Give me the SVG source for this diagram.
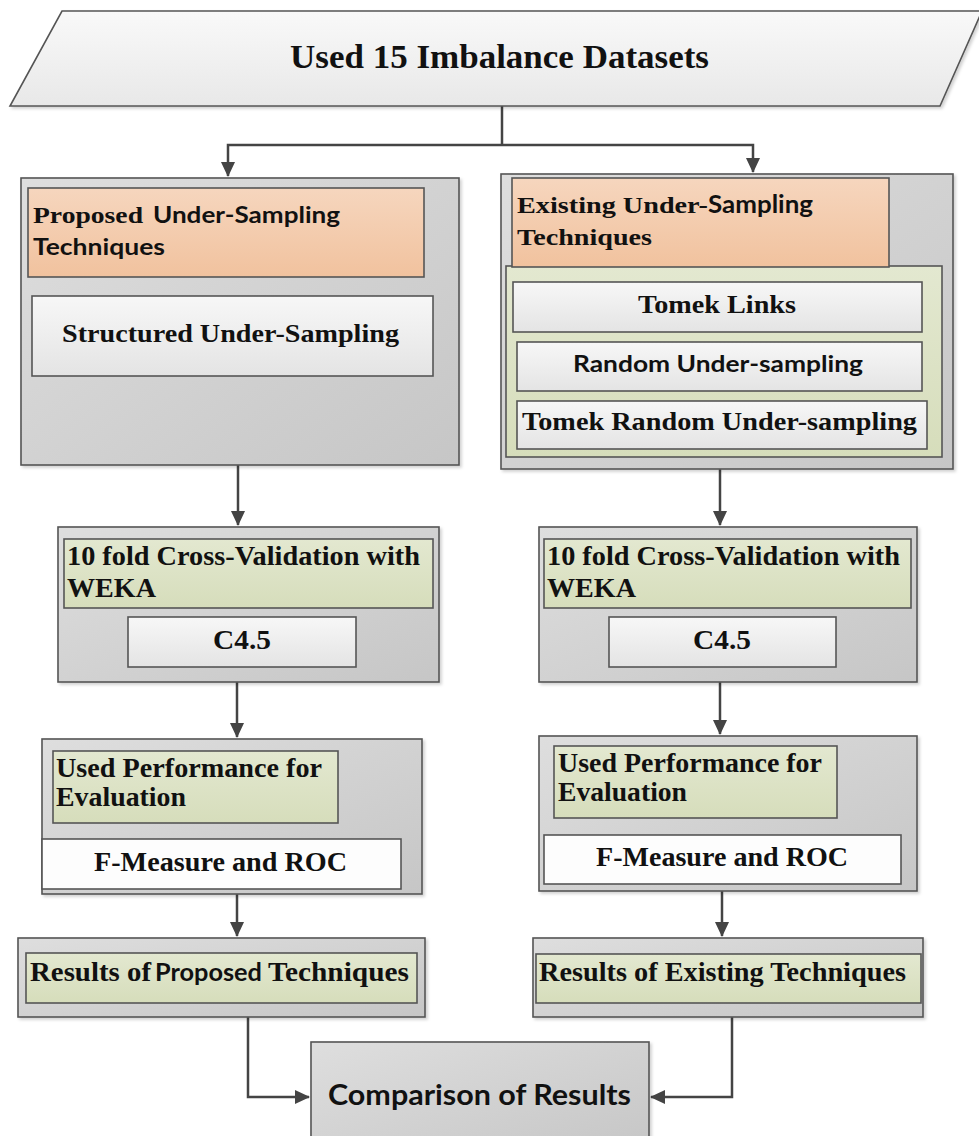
<svg xmlns="http://www.w3.org/2000/svg" width="979" height="1136" viewBox="0 0 979 1136">
<defs>
<linearGradient id="gGray" x1="0" y1="0" x2="1" y2="1"><stop offset="0" stop-color="#dedede"/><stop offset="1" stop-color="#c6c6c6"/></linearGradient>
<linearGradient id="gLight" x1="0" y1="0" x2="0" y2="1"><stop offset="0" stop-color="#f7f7f7"/><stop offset="1" stop-color="#e4e4e4"/></linearGradient>
<linearGradient id="gPara" x1="0" y1="0" x2="0" y2="1"><stop offset="0" stop-color="#f9f9f9"/><stop offset="1" stop-color="#e8e8e8"/></linearGradient>
<linearGradient id="gOrange" x1="0" y1="0" x2="0" y2="1"><stop offset="0" stop-color="#f6d6be"/><stop offset="1" stop-color="#f1c29e"/></linearGradient>
<linearGradient id="gGreen" x1="0" y1="0" x2="0" y2="1"><stop offset="0" stop-color="#e3e8d0"/><stop offset="1" stop-color="#d6ddbb"/></linearGradient>
<filter id="sh" x="-5%" y="-5%" width="112%" height="115%"><feDropShadow dx="2" dy="2" stdDeviation="1.5" flood-color="#000" flood-opacity="0.18"/></filter>
<marker id="ah" markerUnits="userSpaceOnUse" markerWidth="16" markerHeight="14" refX="14" refY="7" orient="auto"><path d="M0,0 L15,7 L0,14 z" fill="#444"/></marker>
</defs>
<style>
.box{stroke:#555;stroke-width:1.6}
.gray{fill:url(#gGray)}
.light{fill:url(#gLight)}
.white{fill:#fdfdfd}
.orange{fill:url(#gOrange)}
.green{fill:url(#gGreen)}
.conn{fill:none;stroke:#444;stroke-width:2.5}
.serif{font-family:"Liberation Serif","Times New Roman",serif;font-weight:bold;fill:#111}
.sans{font-family:Lato,"Open Sans","Liberation Sans",sans-serif;font-weight:bold;fill:#111}
</style>

<g id="connectors">
<path class="conn" d="M502,106 V145"/>
<path class="conn" d="M502,145 H228 V176" marker-end="url(#ah)"/>
<path class="conn" d="M502,145 H753 V172" marker-end="url(#ah)"/>
<path class="conn" d="M238,465 V525" marker-end="url(#ah)"/>
<path class="conn" d="M720,469 V525" marker-end="url(#ah)"/>
<path class="conn" d="M237,682 V737" marker-end="url(#ah)"/>
<path class="conn" d="M720,682 V734" marker-end="url(#ah)"/>
<path class="conn" d="M237,894 V936" marker-end="url(#ah)"/>
<path class="conn" d="M722,891 V936" marker-end="url(#ah)"/>
<path class="conn" d="M248,1017 V1097 H309" marker-end="url(#ah)"/>
<path class="conn" d="M732,1017 V1097 H651" marker-end="url(#ah)"/>
</g>

<g id="datasets">
<polygon class="box" points="62,11 982,11 940,106 10,106" fill="url(#gPara)" filter="url(#sh)"/>
<text class="serif" x="290" y="68" font-size="34" textLength="419" lengthAdjust="spacingAndGlyphs">Used 15 Imbalance Datasets</text>
</g>

<g id="proposed">
<rect class="box gray" x="21" y="178" width="438" height="287" filter="url(#sh)"/>
<rect class="box orange" x="28" y="188" width="396" height="89"/>
<text y="223" font-size="23"><tspan class="serif" x="33" textLength="110" lengthAdjust="spacingAndGlyphs">Proposed</tspan><tspan class="sans" x="153" textLength="187" lengthAdjust="spacingAndGlyphs">Under-Sampling</tspan></text>
<text class="sans" x="33" y="255" font-size="23" textLength="132" lengthAdjust="spacingAndGlyphs">Techniques</text>
<rect class="box light" x="32" y="296" width="401" height="80"/>
<text class="serif" x="62" y="342" font-size="26" textLength="337" lengthAdjust="spacingAndGlyphs">Structured Under-Sampling</text>
</g>

<g id="existing">
<rect class="box gray" x="501" y="174" width="452" height="295" filter="url(#sh)"/>
<rect class="box green" x="506" y="266" width="436" height="191"/>
<rect class="box orange" x="512" y="178" width="377" height="89"/>
<text y="213" font-size="24"><tspan class="serif" x="517" textLength="191" lengthAdjust="spacingAndGlyphs">Existing Under-</tspan><tspan class="sans" x="708" textLength="105" lengthAdjust="spacingAndGlyphs">Sampling</tspan></text>
<text class="serif" x="517" y="245" font-size="24" textLength="135" lengthAdjust="spacingAndGlyphs">Techniques</text>
<rect class="box light" x="513" y="282" width="409" height="50"/>
<text class="serif" x="638" y="313" font-size="26" textLength="158" lengthAdjust="spacingAndGlyphs">Tomek Links</text>
<rect class="box light" x="517" y="342" width="405" height="49"/>
<text class="sans" x="573" y="372" font-size="22" textLength="290" lengthAdjust="spacingAndGlyphs">Random Under-sampling</text>
<rect class="box light" x="517" y="401" width="410" height="48"/>
<text class="serif" x="522" y="430" font-size="26" textLength="395" lengthAdjust="spacingAndGlyphs">Tomek Random Under-sampling</text>
</g>

<g id="cv-left">
<rect class="box gray" x="58" y="527" width="381" height="155" filter="url(#sh)"/>
<rect class="box green" x="64" y="539" width="369" height="69"/>
<text class="serif" x="67" y="565" font-size="27" textLength="353" lengthAdjust="spacingAndGlyphs">10 fold Cross-Validation with</text>
<text class="serif" x="67" y="597" font-size="27" textLength="89" lengthAdjust="spacingAndGlyphs">WEKA</text>
<rect class="box light" x="128" y="617" width="228" height="50"/>
<text class="serif" x="242" y="649" font-size="27" text-anchor="middle" textLength="58" lengthAdjust="spacingAndGlyphs">C4.5</text>
</g>

<g id="cv-right">
<rect class="box gray" x="539" y="527" width="378" height="155" filter="url(#sh)"/>
<rect class="box green" x="544" y="539" width="367" height="69"/>
<text class="serif" x="547" y="565" font-size="27" textLength="353" lengthAdjust="spacingAndGlyphs">10 fold Cross-Validation with</text>
<text class="serif" x="547" y="597" font-size="27" textLength="89" lengthAdjust="spacingAndGlyphs">WEKA</text>
<rect class="box light" x="609" y="617" width="227" height="50"/>
<text class="serif" x="722" y="649" font-size="27" text-anchor="middle" textLength="58" lengthAdjust="spacingAndGlyphs">C4.5</text>
</g>

<g id="eval-left">
<rect class="box gray" x="42" y="739" width="380" height="155" filter="url(#sh)"/>
<rect class="box green" x="53" y="751" width="285" height="72"/>
<text class="serif" x="56" y="777" font-size="27" textLength="266" lengthAdjust="spacingAndGlyphs">Used Performance for</text>
<text class="serif" x="56" y="806" font-size="27" textLength="130" lengthAdjust="spacingAndGlyphs">Evaluation</text>
<rect class="box white" x="42" y="839" width="359" height="50"/>
<text class="serif" x="94" y="871" font-size="27" textLength="253" lengthAdjust="spacingAndGlyphs">F-Measure and ROC</text>
</g>

<g id="eval-right">
<rect class="box gray" x="539" y="736" width="378" height="155" filter="url(#sh)"/>
<rect class="box green" x="554" y="746" width="283" height="72"/>
<text class="serif" x="558" y="772" font-size="27" textLength="264" lengthAdjust="spacingAndGlyphs">Used Performance for</text>
<text class="serif" x="558" y="801" font-size="27" textLength="129" lengthAdjust="spacingAndGlyphs">Evaluation</text>
<rect class="box white" x="544" y="835" width="357" height="49"/>
<text class="serif" x="596" y="866" font-size="27" textLength="252" lengthAdjust="spacingAndGlyphs">F-Measure and ROC</text>
</g>

<g id="results-left">
<rect class="box gray" x="18" y="938" width="407" height="79" filter="url(#sh)"/>
<rect class="box green" x="26" y="953" width="391" height="50"/>
<text y="981" font-size="27"><tspan class="serif" x="30" textLength="121" lengthAdjust="spacingAndGlyphs">Results of</tspan><tspan class="sans" x="155" textLength="107" lengthAdjust="spacingAndGlyphs" font-size="25">Proposed</tspan><tspan class="serif" x="268" textLength="141" lengthAdjust="spacingAndGlyphs">Techniques</tspan></text>
</g>

<g id="results-right">
<rect class="box gray" x="533" y="938" width="390" height="79" filter="url(#sh)"/>
<rect class="box green" x="536" y="954" width="385" height="49"/>
<text class="serif" x="539" y="981" font-size="27" textLength="367" lengthAdjust="spacingAndGlyphs">Results of Existing Techniques</text>
</g>

<g id="comparison">
<rect class="box gray" x="311" y="1042" width="338" height="110" filter="url(#sh)"/>
<text class="sans" x="328" y="1105" font-size="29" textLength="303" lengthAdjust="spacingAndGlyphs">Comparison of Results</text>
</g>
</svg>
